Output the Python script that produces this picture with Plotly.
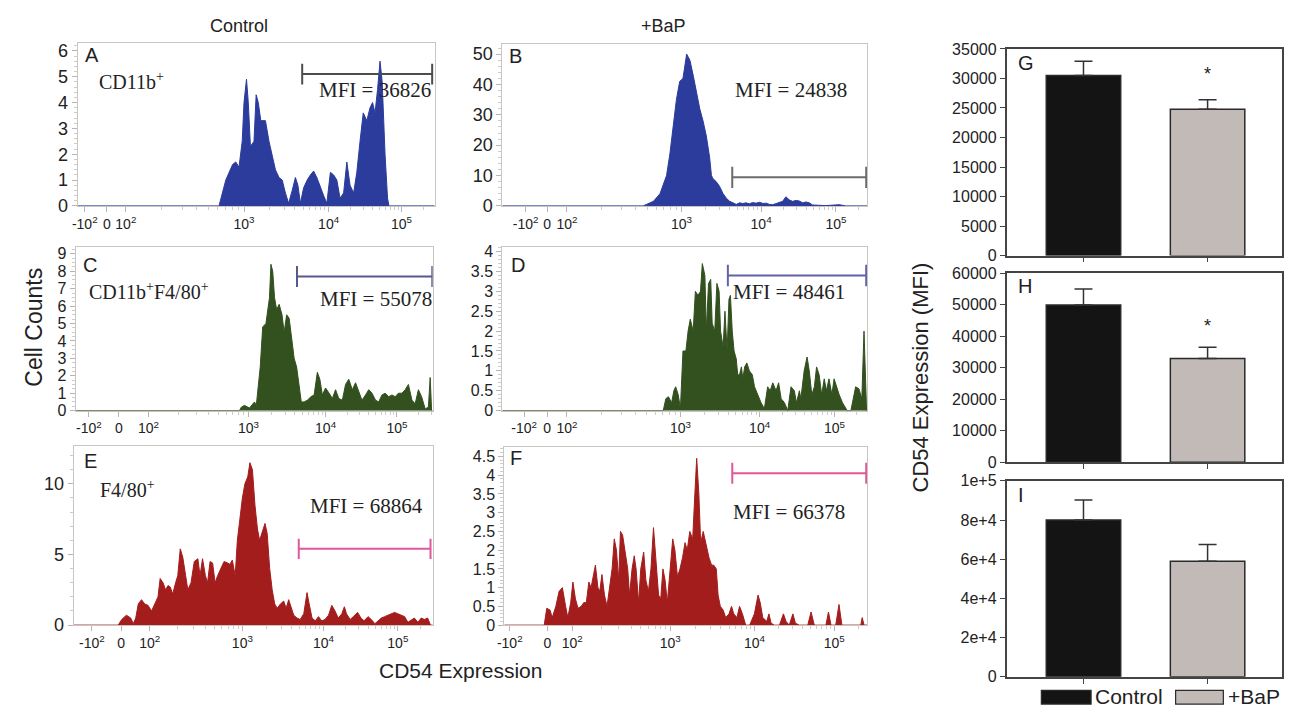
import math
import plotly.graph_objects as go

W, H = 1289, 717

# ---------------- data ----------------
tick_text = ["-10<sup>2</sup>", "0", "10<sup>2</sup>", "10<sup>3</sup>", "10<sup>4</sup>", "10<sup>5</sup>"]

# channel positions (0-1000 display scale) of the biexponential ticks, per panel
ticks_A = [20, 82, 135, 466, 703, 907]
ticks_B = [64, 123, 177, 491, 709, 914]
ticks_C = [37, 121, 204, 484, 700, 900]
ticks_D = [60, 123, 177, 488, 705, 910]
ticks_E = [51, 132, 212, 470, 696, 903]
ticks_F = [15, 119, 187, 457, 689, 909]

A_ch = [0, 396, 415, 434, 443, 452, 461, 466, 473, 478, 484, 494, 500, 506, 513, 526, 536, 545, 554, 564,
        573, 582, 591, 601, 610, 617, 624, 633, 643, 652, 661, 670, 680, 689, 698, 708, 717, 726, 735, 745,
        754, 763, 773, 782, 791, 800, 810, 819, 826, 833, 840, 847, 853, 861, 868, 872, 1000]
A_ct = [0, 0, 1.0, 1.6, 1.7, 1.5, 2.5, 4.0, 4.9, 4.0, 2.3, 2.5, 4.3, 4.0, 3.3, 3.3, 2.5, 2.0, 1.4, 1.1,
        1.0, 0.5, 0.1, 0.6, 1.1, 0.8, 0.1, 0.7, 1.0, 1.2, 1.35, 1.1, 0.7, 0.4, 0.1, 1.3, 1.2, 1.0, 0.3, 0.5,
        1.7, 0.8, 0.5, 1.3, 2.5, 3.6, 3.3, 3.8, 4.0, 3.6, 4.5, 5.6, 4.8, 2.0, 0.3, 0, 0]

B_ch = [0, 386, 395, 414, 432, 450, 459, 468, 477, 486, 495, 505, 514, 523, 532, 541, 550, 559, 568, 573,
        577, 586, 595, 605, 614, 623, 632, 641, 650, 659, 668, 677, 686, 695, 705, 714, 723, 732, 741, 750,
        759, 768, 777, 786, 795, 805, 814, 823, 832, 841, 850, 859, 886, 923, 932, 941, 1000]
B_ct = [0, 0, 0.5, 1.5, 4, 10, 17, 27, 35, 41, 42, 50, 48, 43, 37, 32, 28, 23, 16, 10,
        9, 8, 6.5, 4, 2.5, 1.5, 1.0, 0.5, 1.0, 0.8, 1.0, 0.7, 1.1, 0.9, 1.2, 0.8, 0.9, 0.5, 0.4, 0.8,
        1.2, 1.5, 3.0, 2.0, 1.5, 1.8, 1.6, 1.0, 1.3, 1.0, 0.3, 0.2, 0.1, 0.4, 0.1, 0, 0]

C_ch = [0, 459, 464, 473, 487, 501, 506, 510, 517, 524, 533, 543, 547, 552, 557, 563, 570, 578, 584, 591,
        598, 606, 612, 619, 626, 632, 640, 649, 659, 668, 677, 684, 691, 700, 710, 719, 728, 737, 747, 756,
        765, 775, 784, 793, 802, 812, 821, 830, 840, 849, 858, 867, 877, 886, 895, 904, 914, 923, 932, 942,
        951, 960, 969, 979, 988, 993, 997, 1000]
C_ct = [0, 0, 0.2, 0.3, 0.15, 0.5, 0.3, 1.0, 2.5, 4.8, 5.0, 6.5, 8.4, 8.0, 6.5, 5.8, 6.1, 5.5, 4.5, 5.5,
        5.3, 4.0, 3.0, 2.5, 1.5, 0.5, 0.5, 0.6, 0.8, 0.9, 2.2, 1.8, 0.9, 1.3, 1.0, 0.7, 1.2, 0.7, 0.6, 1.5,
        1.8, 1.2, 1.6, 1.1, 0.6, 0.9, 1.2, 1.0, 0.6, 0.5, 0.9, 1.0, 0.8, 0.9, 0.8, 1.0, 1.0, 1.2, 1.5, 0.6,
        0.4, 1.2, 0.8, 0.1, 0.2, 1.9, 0, 0]

D_ch = [0, 441, 448, 455, 464, 470, 475, 482, 488, 495, 503, 509, 515, 523, 529, 536, 543, 548, 555, 559,
        565, 571, 575, 582, 588, 594, 598, 605, 610, 616, 621, 625, 630, 635, 641, 645, 650, 655, 659, 664,
        670, 677, 685, 691, 700, 709, 718, 727, 734, 741, 750, 757, 764, 773, 782, 791, 800, 806, 814, 818,
        827, 835, 841, 848, 855, 861, 868, 875, 882, 888, 895, 903, 909, 915, 923, 932, 945, 955, 968, 977,
        985, 991, 995, 998, 1000]
D_ct = [0, 0, 0.3, 0.35, 0.2, 0.5, 0.6, 0.4, 0.05, 1.5, 1.5, 2.0, 2.3, 2.0, 3.0, 2.9, 3.0, 3.7, 3.4, 2.0,
        3.2, 3.3, 2.2, 2.0, 3.2, 3.0, 2.0, 1.6, 2.5, 1.5, 2.8, 2.9, 2.0, 1.5, 1.3, 0.9, 0.9, 1.1, 0.8, 1.1,
        1.2, 1.0, 0.9, 0.6, 0.4, 0.2, 0.05, 0.6, 0.5, 0.7, 0.5, 0.7, 0.3, 0.2, 0.0, 0.6, 0.5, 0.2, 0.5, 0.3,
        1.0, 1.35, 1.0, 0.4, 0.6, 1.1, 0.9, 0.4, 0.8, 0.5, 0.8, 0.4, 0.8, 0.6, 0.4, 0.2, 0.0, 0.0, 0.6, 0.55,
        0.3, 2.0, 0.5, 0, 0]

E_ch = [0, 124, 134, 147, 159, 166, 173, 180, 189, 198, 207, 217, 226, 235, 241, 249, 256, 263, 269, 276,
        284, 290, 297, 304, 312, 318, 327, 336, 346, 352, 359, 367, 373, 380, 387, 394, 401, 410, 419, 429,
        435, 442, 450, 456, 463, 470, 477, 485, 491, 498, 505, 512, 518, 525, 533, 539, 546, 553, 560, 567,
        576, 585, 592, 599, 606, 613, 622, 631, 641, 650, 656, 664, 673, 682, 691, 700, 710, 719, 728, 737,
        747, 754, 760, 770, 779, 791, 800, 809, 820, 829, 839, 848, 857, 866, 876, 885, 894, 903, 912, 922,
        931, 940, 949, 959, 968, 977, 986, 994, 1000]
E_ct = [0, 0, 0.4, 0.7, 0.5, 0.1, 0.5, 1.5, 1.8, 1.5, 1.4, 1.0, 1.5, 2.0, 3.3, 3.0, 2.5, 2.8, 2.7, 2.2,
        3.0, 3.5, 5.4, 4.8, 3.5, 2.5, 3.0, 4.5, 4.7, 3.5, 4.7, 3.5, 3.0, 4.5, 4.4, 3.0, 3.5, 4.0, 4.5, 4.4,
        4.3, 4.6, 3.5, 6.0, 7.5, 9.0, 10.0, 10.5, 11.5, 11.0, 8.5, 6.8, 6.0, 6.5, 7.2, 6.5, 4.0, 2.5, 1.5, 1.2,
        1.5, 1.7, 1.2, 1.8, 1.3, 0.7, 0.5, 0.4, 0.8, 2.3, 1.5, 0.5, 0.3, 0.6, 0.3, 0.4, 0.7, 1.4, 1.0, 0.5,
        0.8, 1.3, 0.8, 0.4, 0.6, 0.9, 0.5, 0.3, 0.6, 0.4, 0.1, 0.3, 0.5, 0.6, 0.7, 0.8, 0.9, 0.8, 0.7, 0.6,
        0.2, 0.35, 0.5, 0.2, 0.5, 0.4, 0.5, 0, 0]

F_ch = [0, 110, 117, 126, 132, 142, 151, 160, 169, 175, 183, 189, 196, 203, 212, 219, 226, 233, 239, 245,
        251, 258, 263, 269, 276, 283, 290, 297, 303, 309, 315, 320, 326, 333, 340, 345, 352, 358, 363, 370,
        376, 384, 390, 397, 404, 411, 417, 425, 431, 437, 443, 449, 457, 464, 470, 477, 484, 491, 498, 504,
        511, 519, 525, 530, 536, 541, 548, 557, 564, 571, 577, 584, 589, 595, 603, 610, 619, 626, 632, 641,
        648, 656, 665, 676, 689, 699, 705, 712, 723, 729, 735, 744, 758, 769, 776, 785, 795, 802, 813, 826,
        836, 845, 854, 868, 886, 893, 900, 913, 922, 930, 968, 982, 986, 991, 1000]
F_ct = [0, 0, 0.45, 0.4, 0.2, 0.5, 0.9, 1.0, 0.5, 0.2, 0.6, 1.15, 0.7, 0.45, 0.5, 0.6, 0.6, 1.15, 1.0, 1.3,
        1.6, 1.0, 0.9, 1.35, 0.8, 0.5, 1.0, 1.5, 2.3, 2.0, 1.2, 2.5, 2.4, 2.0, 1.5, 0.8, 1.5, 1.85, 1.5, 0.6,
        1.5, 1.95, 1.2, 0.9, 1.5, 2.6, 1.8, 0.8, 0.7, 1.5, 1.2, 0.6, 1.5, 2.3, 2.0, 1.3, 1.5, 1.8, 2.2, 2.0,
        2.5, 2.3, 3.5, 4.45, 3.5, 2.2, 2.5, 2.1, 1.8, 1.6, 1.6, 1.5, 0.8, 0.5, 0.4, 0.2, 0.3, 0.5, 0.3, 0.2,
        0.5, 0.3, 0.0, 0.0, 0.3, 0.8, 0.6, 0.2, 0.1, 0.3, 0.05, 0.0, 0.0, 0.3, 0.1, 0.0, 0.3, 0.05, 0.0, 0.0,
        0.0, 0.35, 0.0, 0.0, 0.0, 0.35, 0.0, 0.0, 0.55, 0.0, 0.0, 0.0, 0.2, 0.0, 0]

# gates: (low channel, high channel, level)
gate_A = (629, 993, 5.1)
gate_B = (630, 997, 9.4)
gate_C = (620, 999, 7.7)
gate_D = (618, 997, 3.4)
gate_E = (627, 994, 5.4)
gate_F = (628, 997, 4.05)

mfi_A, mfi_B, mfi_C, mfi_D, mfi_E, mfi_F = 36826, 24838, 55078, 48461, 68864, 66378

groups = ["Control", "+BaP"]
G_mean = [30500, 24800]
G_err = [2400, 1600]
H_mean = [49900, 32900]
H_err = [5100, 3600]
I_mean = [80000, 59000]
I_err = [10200, 8500]
I_ticks = [0, 20000, 40000, 60000, 80000, 100000]
I_ticktext = ["0", "2e+4", "4e+4", "6e+4", "8e+4", "1e+5"]

# ---------------- styling / layout ----------------
BLUE = "#2b3c9c"
GREEN = "#33501f"
RED = "#a41d1d"
FRAME = "#c9c6c2"
SANS = "Liberation Sans, Arial, sans-serif"
SERIF = "Liberation Serif, Times New Roman, serif"


def xd(p0, p1):
    return [p0 / W, p1 / W]


def yd(p0, p1):
    return [1 - p1 / H, 1 - p0 / H]


def minors(tv):
    out = []
    p2, p3, p4, p5 = tv[2], tv[3], tv[4], tv[5]
    for a, b in [(p2, p3), (p3, p4), (p4, p5)]:
        for k in range(2, 10):
            out.append(a + (b - a) * math.log10(k))
    for k in range(2, 10):
        v = p5 + (p5 - p4) * math.log10(k)
        if v < 1000:
            out.append(v)
    return out


panels = [
    dict(L="A", ch=A_ch, ct=A_ct, col=BLUE, tv=ticks_A, ymax=6.3, dt=1, mdt=0.2, gate=gate_A, gc="#4d4d4d",
         cap=0.4, mfi=mfi_A, mx=833, my=4.5, pop="CD11b<sup>+</sup>", px=53, py=4.85, lx=14, ly=5.85,
         dx=xd(71, 430), dy=yd(36, 203), yfs=18),
    dict(L="B", ch=B_ch, ct=B_ct, col=BLUE, tv=ticks_B, ymax=53.3, dt=10, mdt=2, gate=gate_B, gc="#6b6b6b",
         cap=3.5, mfi=mfi_B, mx=791, my=38.3, pop=None, lx=14, ly=49.5,
         dx=xd(498, 865), dy=yd(37, 203), yfs=18),
    dict(L="C", ch=C_ch, ct=C_ct, col=GREEN, tv=ticks_C, ymax=9.4, dt=1, mdt=0.25, gate=gate_C, gc="#585890",
         cap=0.6, mfi=mfi_C, mx=841, my=6.4, pop="CD11b<sup>+</sup>F4/80<sup>+</sup>", px=32, py=6.85, lx=16, ly=8.34,
         dx=xd(69, 428), dy=yd(245, 413), yfs=16),
    dict(L="D", ch=D_ch, ct=D_ct, col=GREEN, tv=ticks_D, ymax=4.12, dt=0.5, mdt=0.1, gate=gate_D, gc="#6262a6",
         cap=0.27, mfi=mfi_D, mx=786, my=2.98, pop=None, lx=18, ly=3.67,
         dx=xd(498, 865), dy=yd(245, 413), yfs=16),
    dict(L="E", ch=E_ch, ct=E_ct, col=RED, tv=ticks_E, ymax=12.7, dt=5, mdt=1, gate=gate_E, gc="#e0579c",
         cap=0.72, mfi=mfi_E, mx=816, my=8.4, pop="F4/80<sup>+</sup>", px=69, py=9.65, lx=23, ly=11.6,
         dx=xd(67, 428), dy=yd(449, 633), yfs=18),
    dict(L="F", ch=F_ch, ct=F_ct, col=RED, tv=ticks_F, ymax=4.76, dt=0.5, mdt=0.1, gate=gate_F, gc="#e0579c",
         cap=0.28, mfi=mfi_F, mx=783, my=3.03, pop=None, lx=9, ly=4.46,
         dx=xd(500, 865), dy=yd(450, 633), yfs=16),
]

fig = go.Figure()
annotations = []
layout = {}

for i, p in enumerate(panels, start=1):
    xa = "x" if i == 1 else f"x{i}"
    ya = "y" if i == 1 else f"y{i}"
    xk = "xaxis" if i == 1 else f"xaxis{i}"
    yk = "yaxis" if i == 1 else f"yaxis{i}"
    fig.add_trace(go.Scatter(x=p["ch"], y=p["ct"], mode="lines", fill="tozeroy",
                             fillcolor=p["col"], line=dict(color=p["col"], width=1),
                             xaxis=xa, yaxis=ya, showlegend=False, hoverinfo="skip"))
    lo, hi, gy = p["gate"]
    c = p["cap"]
    fig.add_trace(go.Scatter(x=[lo, hi, None, lo, lo, None, hi, hi],
                             y=[gy, gy, None, gy - c, gy + c, None, gy - c, gy + c],
                             mode="lines", line=dict(color=p["gc"], width=2),
                             xaxis=xa, yaxis=ya, showlegend=False, hoverinfo="skip"))
    layout[xk] = dict(domain=p["dx"], range=[0, 1000], anchor=ya, showline=True, mirror=True,
                      linecolor=FRAME, linewidth=1, ticks="outside", ticklen=5, tickcolor="#b5b5b5",
                      tickmode="array", tickvals=p["tv"], ticktext=tick_text, tickangle=0,
                      tickfont=dict(family=SANS, size=14, color="#222"), showgrid=False, zeroline=False,
                      minor=dict(tickmode="array", tickvals=minors(p["tv"]), ticks="outside", ticklen=3,
                                 tickcolor="#cccccc"),
                      fixedrange=True)
    layout[yk] = dict(domain=p["dy"], range=[0, p["ymax"]], anchor=xa, showline=True, mirror=True,
                      linecolor=FRAME, linewidth=1, ticks="outside", ticklen=5, tickcolor="#b5b5b5",
                      tick0=0, dtick=p["dt"], tickfont=dict(family=SANS, size=p["yfs"], color="#222"),
                      showgrid=False, zeroline=False,
                      minor=dict(dtick=p["mdt"], ticks="outside", ticklen=3, tickcolor="#cccccc"),
                      fixedrange=True)
    annotations.append(dict(x=p["mx"], y=p["my"], xref=xa, yref=ya, text=f"MFI = {p['mfi']}",
                            showarrow=False, font=dict(family=SERIF, size=21, color="#222"),
                            xanchor="center", yanchor="middle"))
    annotations.append(dict(x=p["lx"], y=p["ly"], xref=xa, yref=ya, text=p["L"], showarrow=False,
                            font=dict(family=SANS, size=20, color="#222"), xanchor="left", yanchor="middle"))
    if p["pop"]:
        annotations.append(dict(x=p["px"], y=p["py"], xref=xa, yref=ya, text=p["pop"], showarrow=False,
                                font=dict(family=SERIF, size=20, color="#222"), xanchor="left",
                                yanchor="middle"))

# ---------------- bar charts ----------------
bars = [
    dict(L="G", mean=G_mean, err=G_err, ymax=35000, dt=5000, star=30800, dx=xd(1005, 1282), dy=yd(42, 254)),
    dict(L="H", mean=H_mean, err=H_err, ymax=60000, dt=10000, star=43100, dx=xd(1005, 1282), dy=yd(272, 466)),
    dict(L="I", mean=I_mean, err=I_err, ymax=100000, dt=None, star=None, dx=xd(1005, 1282), dy=yd(485, 686)),
]
bar_cols = ["#141414", "#c2bab6"]

for j, b in enumerate(bars, start=7):
    xa, ya = f"x{j}", f"y{j}"
    for k, g in enumerate(groups):
        fig.add_trace(go.Bar(x=[k], y=[b["mean"][k]], width=0.6, name=g,
                             marker=dict(color=bar_cols[k], line=dict(color="#2a2a2a", width=1.5)),
                             error_y=dict(type="data", symmetric=False, array=[b["err"][k]], arrayminus=[0],
                                          color="#333333", thickness=1.5, width=9),
                             xaxis=xa, yaxis=ya, showlegend=False, hoverinfo="skip"))
    layout[f"xaxis{j}"] = dict(domain=b["dx"], range=[-0.62, 1.6], anchor=ya, showline=True, mirror=True,
                               linecolor="#444", linewidth=1.5, ticks="outside", ticklen=5, tickcolor="#444",
                               tickmode="array", tickvals=[0, 1], ticktext=["", ""], showgrid=False,
                               zeroline=False, fixedrange=True)
    yax = dict(domain=b["dy"], range=[0, b["ymax"]], anchor=xa, showline=True, mirror=True,
               linecolor="#444", linewidth=1.5, ticks="outside", ticklen=5, tickcolor="#444",
               tickfont=dict(family=SANS, size=16, color="#222"), showgrid=False, zeroline=False,
               fixedrange=True)
    if b["dt"]:
        yax.update(tick0=0, dtick=b["dt"], tickformat="d")
    else:
        yax.update(tickmode="array", tickvals=I_ticks, ticktext=I_ticktext)
    layout[f"yaxis{j}"] = yax
    annotations.append(dict(x=0.035, y=0.93, xref=f"{xa} domain", yref=f"{ya} domain", text=b["L"],
                            showarrow=False, font=dict(family=SANS, size=20, color="#222"),
                            xanchor="left", yanchor="middle"))
    if b["star"]:
        annotations.append(dict(x=1, y=b["star"], xref=xa, yref=ya, text="*", showarrow=False,
                                font=dict(family=SANS, size=18, color="#222"), yanchor="middle"))


def pa(px, py):
    return px / W, 1 - py / H


def add_text(px, py, text, size, angle=0, family=SANS, xanchor="center"):
    x, y = pa(px, py)
    annotations.append(dict(x=x, y=y, xref="paper", yref="paper", text=text, showarrow=False,
                            textangle=angle, font=dict(family=family, size=size, color="#222"),
                            xanchor=xanchor, yanchor="middle"))


add_text(233, 18, "Control", 18)
add_text(660, 18, "+BaP", 18)
add_text(27, 327, "Cell Counts", 23, angle=-90)
add_text(456, 680, "CD54 Expression", 21)
add_text(918, 379, "CD54 Expression (MFI)", 22, angle=-90)

# legend for bar charts
shapes = []
for (x0, x1), col in zip([(1040, 1090), (1175, 1223)], bar_cols):
    X0, Y1 = pa(x0, 700)
    X1, Y0 = pa(x1, 714)
    shapes.append(dict(type="rect", xref="paper", yref="paper", x0=X0, x1=X1, y0=Y0, y1=Y1,
                       fillcolor=col, line=dict(color="#2a2a2a", width=1.2)))
add_text(1092, 706, groups[0], 21, xanchor="left")
add_text(1226, 706, groups[1], 21, xanchor="left")

fig.update_layout(width=W, height=H, margin=dict(l=0, r=0, t=0, b=0), autosize=False,
                  paper_bgcolor="white", plot_bgcolor="white", barmode="overlay",
                  annotations=annotations, shapes=shapes, hovermode=False, **layout)

fig.write_html("out.html", config={"displayModeBar": False},
               post_script="document.body.style.margin='0px';")
